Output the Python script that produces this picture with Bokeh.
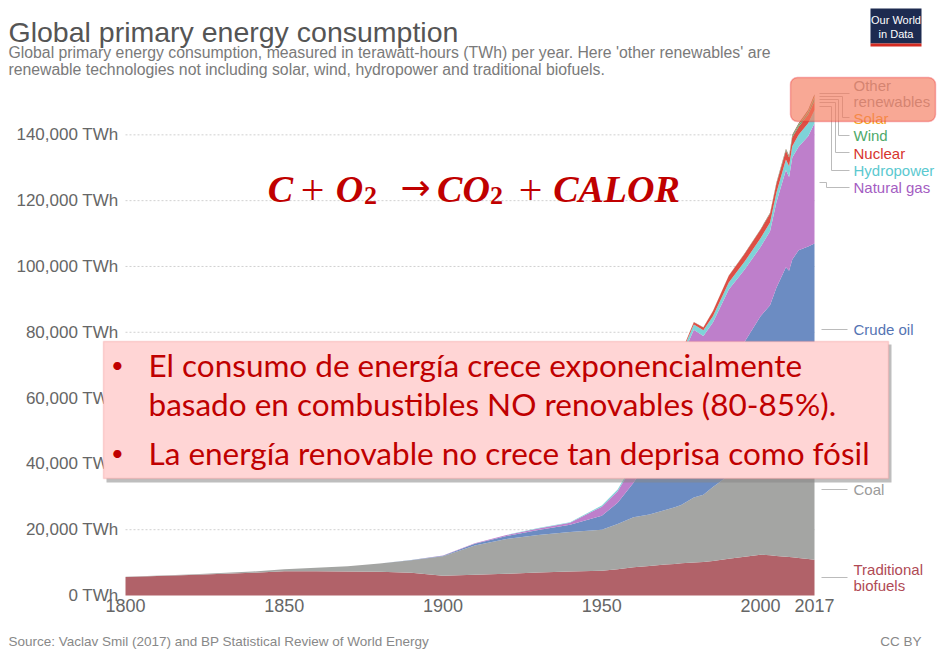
from bokeh.plotting import figure
from bokeh.models import ColumnDataSource, Range1d, FixedTicker, Label, BoxAnnotation, Arrow
from bokeh.embed import file_html
from bokeh.resources import INLINE

# ---------------- data (TWh) ----------------
years = [1800, 1820, 1840, 1850, 1860, 1870, 1880, 1890, 1900, 1910, 1920, 1930, 1940,
         1950, 1955, 1960, 1965, 1970, 1973, 1975, 1979, 1982, 1985, 1990, 1995, 2000,
         2003, 2005, 2008, 2009, 2010, 2012, 2015, 2017]
biofuels = [5600, 6200, 6900, 7400, 7400, 7300, 7200, 6900, 6000, 6300, 6600, 7000, 7300,
            7500, 8000, 8600, 9000, 9400, 9600, 9800, 10000, 10200, 10500, 11200, 11800, 12400,
            12200, 12000, 11800, 11700, 11600, 11400, 11100, 10900]
coal = [100, 150, 360, 570, 1060, 1610, 2500, 3800, 5900, 8900, 10600, 11400, 12000,
        12500, 13700, 15200, 15600, 16600, 17200, 17700, 19800, 20400, 22500, 25300, 26500, 29000,
        31500, 35000, 40000, 40000, 42000, 44500, 44000, 43400]
crude_oil = [0, 0, 0, 0, 0, 10, 30, 80, 180, 500, 900, 1500, 2200,
             4200, 6500, 10500, 17000, 26000, 32000, 31500, 36500, 33000, 33500, 37000, 38800, 43500,
             44500, 46500, 48000, 47000, 48500, 49000, 51000, 52700]
natural_gas = [0, 0, 0, 0, 0, 0, 0, 20, 60, 150, 250, 500, 600,
               2800, 3500, 5500, 7800, 11000, 12500, 13000, 14500, 15300, 16500, 19500, 22000, 21000,
               22500, 26000, 29500, 28500, 31000, 31500, 33500, 36500]
hydropower = [0, 0, 0, 0, 0, 0, 0, 0, 20, 40, 70, 130, 200,
              340, 500, 690, 920, 1180, 1300, 1400, 1600, 1700, 1900, 2160, 2400, 2650,
              2700, 2900, 3200, 3250, 3440, 3600, 3900, 4060]
nuclear = [0] * 15 + [10, 30, 80, 200, 380, 650, 850, 1480, 2000, 2330, 2580,
                      2640, 2770, 2730, 2700, 2770, 2470, 2580, 2640]
wind = [0] * 23 + [4, 8, 31, 63, 104, 220, 276, 342, 520, 830, 1120]
solar = [0] * 25 + [1, 2, 4, 12, 20, 32, 100, 250, 440]
other_renewables = [0] * 16 + [20, 25, 28, 30, 40, 50, 80, 120, 150, 185,
                               200, 230, 290, 310, 360, 420, 500, 580]

series_names = ["Traditional biofuels", "Coal", "Crude oil", "Natural gas", "Hydropower",
                "Nuclear", "Wind", "Solar", "Other renewables"]
series_values = [biofuels, coal, crude_oil, natural_gas, hydropower, nuclear, wind, solar,
                 other_renewables]
area_colors = ["#B16269", "#A4A5A3", "#6C8CC2", "#BE7FCB", "#7ED3D8", "#DE4E45",
               "#5AAA75", "#F5A623", "#8B6E4E"]
label_colors = ["#B04A55", "#9B9B9B", "#5574B3", "#A45DC2", "#5BC9D0", "#D7352E",
                "#4EA96A", "#F5A623", "#999999"]

x_ticks = [1800, 1850, 1900, 1950, 2000, 2017]
y_ticks = [0, 20000, 40000, 60000, 80000, 100000, 120000, 140000]
y_tick_labels = ["0 TWh", "20,000 TWh", "40,000 TWh", "60,000 TWh", "80,000 TWh",
                 "100,000 TWh", "120,000 TWh", "140,000 TWh"]

title_text = "Global primary energy consumption"
subtitle_1 = ("Global primary energy consumption, measured in terawatt-hours (TWh) per year. "
              "Here 'other renewables' are")
subtitle_2 = "renewable technologies not including solar, wind, hydropower and traditional biofuels."
source_text = "Source: Vaclav Smil (2017) and BP Statistical Review of World Energy"
bullets = ["El consumo de energía crece exponencialmente",
           "basado en combustibles NO renovables (80-85%).",
           "La energía renovable no crece tan deprisa como fósil"]

# ---------------- layout ----------------
W, H = 937, 652
# pixel positions of the chart area (left/right = first/last year, bottom = 0, top = 155,000)
AL, AR, AB, AT = 125, 814, 595, 85
YTOP = 155000
sx = (AR - AL) / (years[-1] - years[0])
sy = (AB - AT) / YTOP
x_start = years[0] - AL / sx
x_end = years[-1] + (W - AR) / sx
y_start = -(H - AB) / sy
y_end = YTOP + AT / sy


def X(px):
    return x_start + px / W * (x_end - x_start)


def Y(py):
    return y_end - py / H * (y_end - y_start)


p = figure(width=W, height=H, x_range=Range1d(x_start, x_end), y_range=Range1d(y_start, y_end),
           output_backend="svg", toolbar_location=None, title=None,
           min_border=0, min_border_left=0, min_border_right=0, min_border_top=0,
           min_border_bottom=0)
p.outline_line_color = None
p.background_fill_color = "white"
p.border_fill_color = "white"

data = {"year": years}
for n, v in zip(series_names, series_values):
    data[n] = v
src = ColumnDataSource(data)

# dotted gridlines spanning the data years
p.ygrid.visible = False
p.xgrid.visible = False
grid_ticks = y_ticks[1:]
p.segment(x0=[years[0]] * len(grid_ticks), x1=[years[-1]] * len(grid_ticks),
          y0=grid_ticks, y1=grid_ticks, line_color="#d0d0d0", line_dash="2 2", line_width=1)

p.varea_stack(stackers=series_names, x="year", color=area_colors, source=src)

# axes (fixed inside the full-canvas frame)
p.xaxis.ticker = FixedTicker(ticks=x_ticks)
p.yaxis.ticker = FixedTicker(ticks=y_ticks)
p.yaxis.major_label_overrides = {t: l for t, l in zip(y_ticks, y_tick_labels)}
p.yaxis.fixed_location = years[0]
p.xaxis.fixed_location = 0
for ax in (p.xaxis[0], p.yaxis[0]):
    ax.axis_line_color = None
    ax.major_tick_line_color = None
    ax.minor_tick_line_color = None
    ax.major_tick_in = 0
    ax.major_tick_out = 0
    ax.minor_tick_in = 0
    ax.minor_tick_out = 0
    ax.major_label_text_color = "#666666"
    ax.major_label_text_font = "Liberation Sans"
p.yaxis.major_label_text_font_size = "17px"
p.xaxis.major_label_text_font_size = "18px"
p.yaxis.major_label_standoff = 7
p.xaxis.major_label_standoff = 3


def add_label(px, py, text, color, size, font="Liberation Sans", align="left",
              baseline="middle", style="normal"):
    p.add_layout(Label(x=X(px), y=Y(py), text=text, text_color=color, text_font_size=size,
                       text_font=font, text_align=align, text_baseline=baseline,
                       text_font_style=style))


def add_line(points, color="#BBBBBB"):
    for (a, b), (c, d) in zip(points[:-1], points[1:]):
        p.add_layout(Arrow(end=None, x_start=X(a), y_start=Y(b), x_end=X(c), y_end=Y(d),
                           line_color=color, line_width=1))


# titles
add_label(8, 31, title_text, "#555555", "28.5px", baseline="alphabetic")
add_label(8, 52, subtitle_1, "#7a7a7a", "15.8px", baseline="alphabetic")
add_label(8, 69, subtitle_2, "#7a7a7a", "15.8px", baseline="alphabetic")
add_label(8, 641, source_text, "#888888", "13.5px", baseline="alphabetic")
add_label(921, 641, "CC BY", "#888888", "13.5px", align="right", baseline="alphabetic")

# logo
p.add_layout(BoxAnnotation(left=X(870), right=X(921), top=Y(8), bottom=Y(43),
                           fill_color="#1D2B50", fill_alpha=1, line_color=None))
p.add_layout(BoxAnnotation(left=X(870), right=X(921), top=Y(43), bottom=Y(46),
                           fill_color="#D42B21", fill_alpha=1, line_color=None))
add_label(895.5, 19, "Our World", "white", "11px", align="center")
add_label(895.5, 33, "in Data", "white", "11px", align="center")

# series labels & connectors
add_line([(819, 93), (849, 93)])
add_line([(819, 96), (842, 96), (842, 117), (849, 117)])
add_line([(819, 99), (838, 99), (838, 135), (849, 135)])
add_line([(819, 102), (835, 102), (835, 152), (849, 152)])
add_line([(819, 106), (831, 106), (831, 170), (849, 170)])
add_line([(819, 182), (826, 182), (826, 187), (849, 187)])
add_line([(821, 329), (847, 329)])
add_line([(821, 489), (847, 489)])
add_line([(821, 577), (847, 577)])

add_label(853, 85, "Other", label_colors[8], "15px")
add_label(853, 101, "renewables", label_colors[8], "15px")
add_label(853, 118, "Solar", label_colors[7], "15px")
add_label(853, 135, "Wind", label_colors[6], "15px")
add_label(853, 153, "Nuclear", label_colors[5], "15px")
add_label(853, 170, "Hydropower", label_colors[4], "15px")
add_label(853, 187, "Natural gas", label_colors[3], "15px")
add_label(853, 329, "Crude oil", label_colors[2], "15px")
add_label(853, 489, "Coal", label_colors[1], "15px")
add_label(853, 569, "Traditional", label_colors[0], "15px")
add_label(853, 585, "biofuels", label_colors[0], "15px")

# highlight box on top-right
p.add_layout(BoxAnnotation(left=X(790), right=X(935), top=Y(77), bottom=Y(121),
                           fill_color="#F57A5C", fill_alpha=0.65, line_color="#E8141E",
                           line_width=1.5, border_radius=7))

# equation
RED = "#C00000"
SERIF = "Liberation Serif"
add_label(280, 188, "C", RED, "38px", font=SERIF, align="center", baseline="alphabetic", style="bold italic")
add_label(312, 189, "+", RED, "42px", font=SERIF, align="center", baseline="alphabetic")
add_label(349, 188, "O", RED, "38px", font=SERIF, align="center", baseline="alphabetic", style="bold italic")
add_label(370, 195, "2", RED, "26px", font=SERIF, align="center", baseline="alphabetic", style="bold")
add_label(415, 187, "→", RED, "36px", font="DejaVu Sans", align="center", baseline="alphabetic")
add_label(463, 188, "CO", RED, "38px", font=SERIF, align="center", baseline="alphabetic", style="bold italic")
add_label(496, 195, "2", RED, "26px", font=SERIF, align="center", baseline="alphabetic", style="bold")
add_label(530, 189, "+", RED, "42px", font=SERIF, align="center", baseline="alphabetic")
add_label(616, 188, "CALOR", RED, "38px", font=SERIF, align="center", baseline="alphabetic", style="bold italic")

# callout box
p.add_layout(BoxAnnotation(left=X(106), right=X(891), top=Y(344), bottom=Y(482),
                           fill_color="#888888", fill_alpha=0.55, line_color=None))
p.add_layout(BoxAnnotation(left=X(103), right=X(888), top=Y(341), bottom=Y(478),
                           fill_color="#FFD5D5", fill_alpha=1, line_color="#F08A8A",
                           line_width=1.5))
add_label(117, 364, "•", RED, "22px", font="Lato", align="center")
add_label(117, 452, "•", RED, "22px", font="Lato", align="center")
add_label(148, 364, bullets[0], RED, "31.5px", font="Lato")
add_label(148, 403, bullets[1], RED, "31.5px", font="Lato")
add_label(148, 452, bullets[2], RED, "31.5px", font="Lato")

open("out.html", "w").write(file_html(p, INLINE))
